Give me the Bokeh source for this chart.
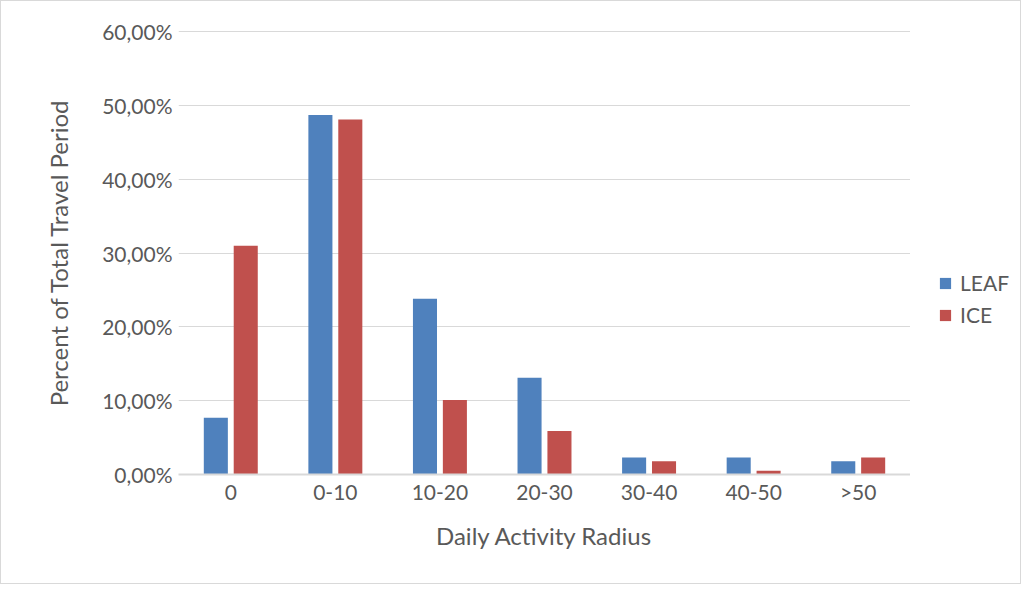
from bokeh.plotting import figure
from bokeh.layouts import row
from bokeh.models import FactorRange, Range1d, FixedTicker, CustomJSTickFormatter, Legend, LegendItem, ColumnDataSource
from bokeh.transform import dodge
from bokeh.embed import file_html
from bokeh.resources import INLINE

categories = ["0", "0-10", "10-20", "20-30", "30-40", "40-50", ">50"]
leaf = [0.077, 0.487, 0.238, 0.131, 0.023, 0.023, 0.018]
ice = [0.310, 0.481, 0.101, 0.059, 0.018, 0.005, 0.023]
y_ticks = [0.0, 0.1, 0.2, 0.3, 0.4, 0.5, 0.6]
series = ["LEAF", "ICE"]
colors = ["#4f81bd", "#c0504d"]

FONT = "Lato"
GREY = "#595959"

src = ColumnDataSource(dict(cat=categories, leaf=leaf, ice=ice))

p = figure(width=909, height=582, x_range=FactorRange(*categories), y_range=Range1d(0, 0.6015),
           output_backend="svg", toolbar_location=None,
           min_border_left=177, min_border_right=0, min_border_top=29, min_border_bottom=109)
p.outline_line_color = None

r1 = p.vbar(x=dodge("cat", -0.143, range=p.x_range), top="leaf", width=0.23, source=src,
            fill_color=colors[0], line_color=None)
r2 = p.vbar(x=dodge("cat", 0.143, range=p.x_range), top="ice", width=0.23, source=src,
            fill_color=colors[1], line_color=None)

p.yaxis.ticker = FixedTicker(ticks=y_ticks)
p.yaxis.formatter = CustomJSTickFormatter(code="return (tick*100).toFixed(2).replace('.', ',') + '%';")
p.ygrid.ticker = FixedTicker(ticks=y_ticks)
p.ygrid.grid_line_color = "#d9d9d9"
p.ygrid.grid_line_width = 1
p.xgrid.grid_line_color = None

for ax in (p.xaxis, p.yaxis):
    ax.major_tick_line_color = None
    ax.minor_tick_line_color = None
    ax.major_tick_out = 0
    ax.major_tick_in = 0
    ax.minor_tick_out = 0
    ax.major_label_text_font = FONT
    ax.major_label_text_color = GREY
    ax.major_label_text_font_size = "21px"
    ax.axis_label_text_font = FONT
    ax.axis_label_text_color = GREY
    ax.axis_label_text_font_size = "24px"
    ax.axis_label_text_font_style = "normal"

p.yaxis.axis_line_color = None
p.xaxis.axis_line_color = "#d9d9d9"
p.xaxis.axis_line_width = 2
p.yaxis.axis_label = "Percent of Total Travel Period"
p.xaxis.axis_label = "Daily Activity Radius"
p.yaxis.major_label_standoff = 6
p.yaxis.axis_label_standoff = 26
p.xaxis.major_label_standoff = 4
p.xaxis.axis_label_standoff = 14

# legend panel: hidden copies of the bar renderers, only their legend entries show
p2 = figure(width=110, height=582, x_range=FactorRange(*categories), y_range=Range1d(0, 0.6015),
            output_backend="svg", toolbar_location=None,
            min_border_left=0, min_border_right=0, min_border_top=0, min_border_bottom=0)
p2.axis.visible = False
p2.grid.visible = False
p2.outline_line_color = None
items = []
for name, col in zip(series, colors):
    rr = p2.vbar(x="cat", top=name.lower(), width=0.23, source=src, fill_color=col, line_color=None,
                 visible=False)
    items.append(LegendItem(label=name, renderers=[rr]))

legend = Legend(items=items, location=(28, 147), orientation="vertical",
                label_text_font=FONT, label_text_color=GREY, label_text_font_size="21px",
                glyph_width=14, glyph_height=14, spacing=7, border_line_color=None,
                background_fill_alpha=0, padding=0, margin=0, label_standoff=8,
                inactive_fill_alpha=0)
p2.add_layout(legend, "center")

layout = row(p, p2)
layout.styles = {"border": "1px solid #d9d9d9"}

open("out.html", "w").write(file_html(layout, INLINE))
